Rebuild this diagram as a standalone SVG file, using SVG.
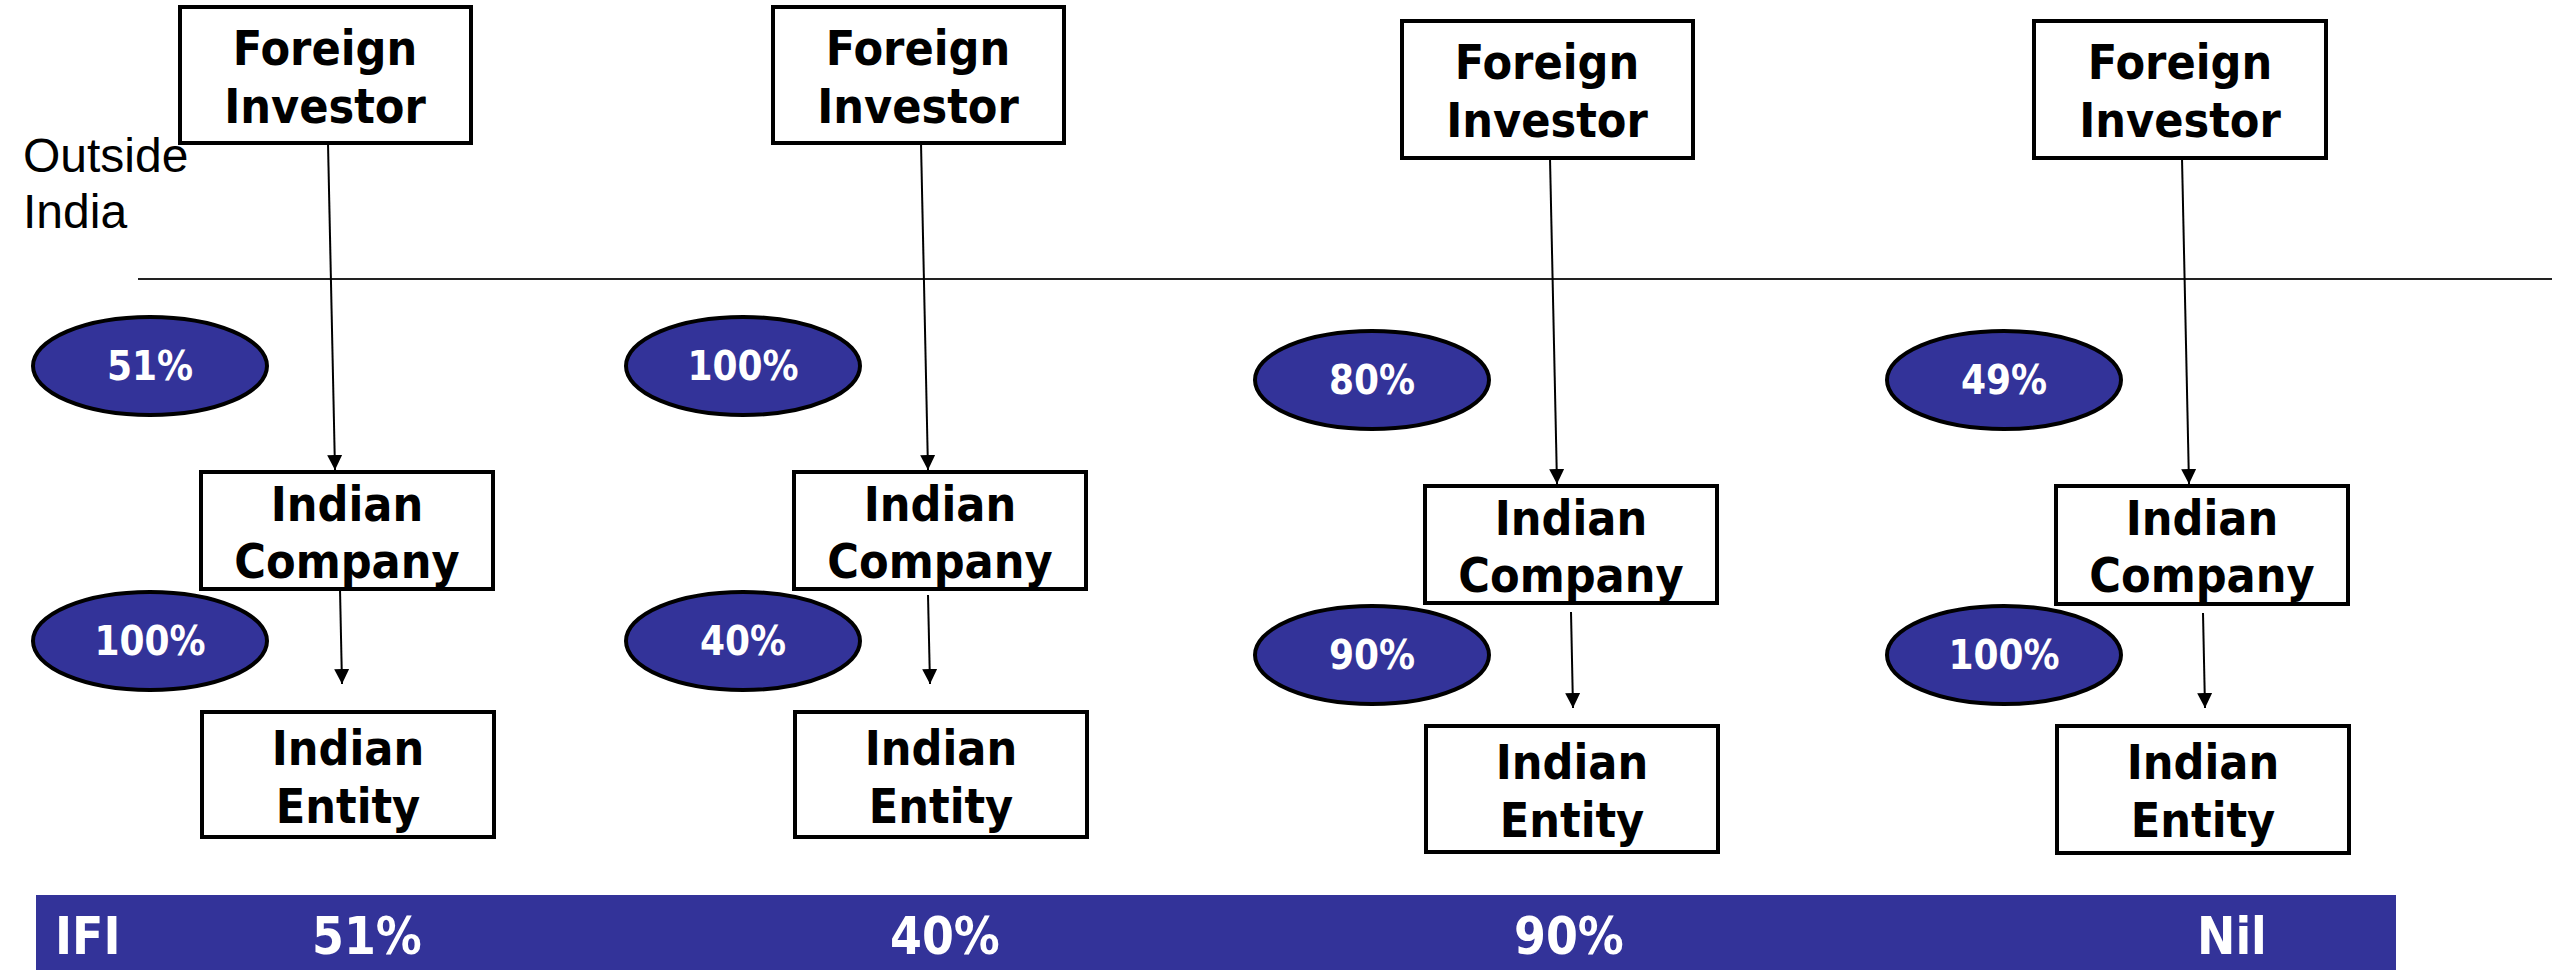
<svg xmlns="http://www.w3.org/2000/svg" width="2552" height="970" viewBox="0 0 2552 970">
<style>
.box{fill:#fff;stroke:#000;stroke-width:4}
.ell{fill:#333399;stroke:#000;stroke-width:4}
.bt{font-family:'DejaVu Sans Condensed','Liberation Sans',sans-serif;font-stretch:condensed;font-weight:bold;font-size:48px;fill:#000;text-anchor:middle}
.et{font-family:'DejaVu Sans Condensed','Liberation Sans',sans-serif;font-stretch:condensed;font-weight:bold;font-size:40px;fill:#fff;text-anchor:middle}
.bar{font-family:'DejaVu Sans Condensed','Liberation Sans',sans-serif;font-stretch:condensed;font-weight:bold;font-size:51px;fill:#fff}
.lbl{font-family:'Liberation Sans',sans-serif;font-size:48px;fill:#000}
.con{stroke:#000;stroke-width:2;fill:none}
</style>
<defs>
<marker id="ah" viewBox="0 0 10 10" markerUnits="userSpaceOnUse" markerWidth="15" markerHeight="15" refX="10" refY="5" orient="auto">
<path d="M0,0 L10,5 L0,10 z" fill="#000"/>
</marker>
</defs>
<rect width="2552" height="970" fill="#fff"/>
<g id="outside-label">
<text class="lbl" x="23" y="172">Outside</text>
<text class="lbl" x="23" y="228">India</text>
</g>
<line x1="138" y1="279" x2="2552" y2="279" stroke="#222" stroke-width="2"/>

<g id="connectors">
<line class="con" x1="328" y1="143" x2="335" y2="470" marker-end="url(#ah)"/>
<line class="con" x1="340" y1="589" x2="342" y2="684" marker-end="url(#ah)"/>
<line class="con" x1="921" y1="143" x2="928" y2="470" marker-end="url(#ah)"/>
<line class="con" x1="928" y1="595" x2="930" y2="684" marker-end="url(#ah)"/>
<line class="con" x1="1550" y1="158" x2="1557" y2="484" marker-end="url(#ah)"/>
<line class="con" x1="1571" y1="612" x2="1573" y2="708" marker-end="url(#ah)"/>
<line class="con" x1="2182" y1="158" x2="2189" y2="484" marker-end="url(#ah)"/>
<line class="con" x1="2203" y1="613" x2="2205" y2="708" marker-end="url(#ah)"/>
</g>

<!-- Column 1 -->
<g id="fi1"><rect class="box" x="180" y="7" width="291" height="136"/><text class="bt" x="325" y="65">Foreign</text><text class="bt" x="325" y="123">Investor</text></g>
<g id="ic1"><rect class="box" x="201" y="472" width="292" height="117"/><text class="bt" x="347" y="521">Indian</text><text class="bt" x="347" y="578">Company</text></g>
<g id="ie1"><rect class="box" x="202" y="712" width="292" height="125"/><text class="bt" x="348" y="765">Indian</text><text class="bt" x="348" y="823">Entity</text></g>
<g id="p1a"><ellipse class="ell" cx="150" cy="366" rx="117" ry="49"/><text class="et" x="150" y="380">51%</text></g>
<g id="p1b"><ellipse class="ell" cx="150" cy="641" rx="117" ry="49"/><text class="et" x="150" y="655">100%</text></g>

<!-- Column 2 -->
<g id="fi2"><rect class="box" x="773" y="7" width="291" height="136"/><text class="bt" x="918" y="65">Foreign</text><text class="bt" x="918" y="123">Investor</text></g>
<g id="ic2"><rect class="box" x="794" y="472" width="292" height="117"/><text class="bt" x="940" y="521">Indian</text><text class="bt" x="940" y="578">Company</text></g>
<g id="ie2"><rect class="box" x="795" y="712" width="292" height="125"/><text class="bt" x="941" y="765">Indian</text><text class="bt" x="941" y="823">Entity</text></g>
<g id="p2a"><ellipse class="ell" cx="743" cy="366" rx="117" ry="49"/><text class="et" x="743" y="380">100%</text></g>
<g id="p2b"><ellipse class="ell" cx="743" cy="641" rx="117" ry="49"/><text class="et" x="743" y="655">40%</text></g>

<!-- Column 3 -->
<g id="fi3"><rect class="box" x="1402" y="21" width="291" height="137"/><text class="bt" x="1547" y="79">Foreign</text><text class="bt" x="1547" y="137">Investor</text></g>
<g id="ic3"><rect class="box" x="1425" y="486" width="292" height="117"/><text class="bt" x="1571" y="535">Indian</text><text class="bt" x="1571" y="592">Company</text></g>
<g id="ie3"><rect class="box" x="1426" y="726" width="292" height="126"/><text class="bt" x="1572" y="779">Indian</text><text class="bt" x="1572" y="837">Entity</text></g>
<g id="p3a"><ellipse class="ell" cx="1372" cy="380" rx="117" ry="49"/><text class="et" x="1372" y="394">80%</text></g>
<g id="p3b"><ellipse class="ell" cx="1372" cy="655" rx="117" ry="49"/><text class="et" x="1372" y="669">90%</text></g>

<!-- Column 4 -->
<g id="fi4"><rect class="box" x="2034" y="21" width="292" height="137"/><text class="bt" x="2180" y="79">Foreign</text><text class="bt" x="2180" y="137">Investor</text></g>
<g id="ic4"><rect class="box" x="2056" y="486" width="292" height="118"/><text class="bt" x="2202" y="535">Indian</text><text class="bt" x="2202" y="592">Company</text></g>
<g id="ie4"><rect class="box" x="2057" y="726" width="292" height="127"/><text class="bt" x="2203" y="779">Indian</text><text class="bt" x="2203" y="837">Entity</text></g>
<g id="p4a"><ellipse class="ell" cx="2004" cy="380" rx="117" ry="49"/><text class="et" x="2004" y="394">49%</text></g>
<g id="p4b"><ellipse class="ell" cx="2004" cy="655" rx="117" ry="49"/><text class="et" x="2004" y="669">100%</text></g>

<g id="ifi-bar">
<rect x="36" y="895" width="2360" height="75" fill="#333399"/>
<text class="bar" x="55" y="954">IFI</text>
<text class="bar" x="312" y="954">51%</text>
<text class="bar" x="890" y="954">40%</text>
<text class="bar" x="1514" y="954">90%</text>
<text class="bar" x="2197" y="954">Nil</text>
</g>
</svg>
